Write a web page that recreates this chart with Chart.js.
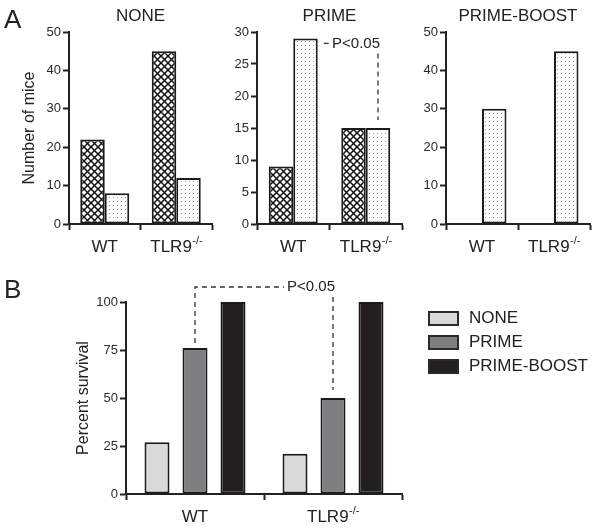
<!DOCTYPE html>
<html>
<head>
<meta charset="utf-8">
<script src="https://cdn.jsdelivr.net/npm/chart.js@4/dist/chart.umd.min.js"></script>
<style>
  body { margin: 0; background: #fff; font-family: "Liberation Sans", Arial, sans-serif; }
  #wrap { position: relative; width: 600px; height: 529px; overflow: hidden; }
  #wrap canvas { position: absolute; left: 0; top: 0; }
  .letter { position: absolute; font-size: 26px; color: #222; }
  #legend { position: absolute; left: 428px; top: 306px; }
  .item { display: flex; align-items: center; height: 24px; font-size: 17px; color: #222; }
  .box { width: 27px; height: 11px; border: 2px solid #2a2a2a; margin-right: 10px; }
</style>
</head>
<body>
<div id="wrap">
  <canvas id="a1" width="600" height="529"></canvas>
  <canvas id="a2" width="600" height="529"></canvas>
  <canvas id="a3" width="600" height="529"></canvas>
  <canvas id="b" width="600" height="529"></canvas>
  <div class="letter" style="left:4px; top:4px;">A</div>
  <div class="letter" style="left:4px; top:274px;">B</div>
  <div id="legend"></div>
</div>
<script>
// Categories shared by all panels
const genotypes = ['WT', 'TLR9-/-'];

// Panel A: number of mice, hatched and dotted series per treatment
const noneHatched = [22, 45];
const noneDotted = [8, 12];
const primeHatched = [9, 15];
const primeDotted = [29, 15];
const boostHatched = [0, 0];
const boostDotted = [30, 45];

// Panel B: percent survival
const survivalSeries = ['NONE', 'PRIME', 'PRIME-BOOST'];
const survivalNone = [27, 21];
const survivalPrime = [76, 50];
const survivalBoost = [100, 100];
const survivalColors = ['#d9d9d9', '#7f7f81', '#231f20'];

const FONT = '"Liberation Sans", Arial, sans-serif';
const INK = '#222';

// Fill patterns for the panel A bars
function makeHatch() {
    const p = 7;
    const c = document.createElement('canvas');
    c.width = p; c.height = p;
    const g = c.getContext('2d');
    g.fillStyle = '#fff';
    g.fillRect(0, 0, p, p);
    g.strokeStyle = '#111';
    g.lineWidth = 1.5;
    for (let k = -1; k <= 1; k++) {
        g.beginPath(); g.moveTo(k * p, 0); g.lineTo(k * p + p, p); g.stroke();
        g.beginPath(); g.moveTo(k * p + p, 0); g.lineTo(k * p, p); g.stroke();
    }
    return g.createPattern(c, 'repeat');
}

function makeDots() {
    const c = document.createElement('canvas');
    c.width = 4; c.height = 4;
    const g = c.getContext('2d');
    g.fillStyle = '#fff';
    g.fillRect(0, 0, 4, 4);
    g.fillStyle = '#999';
    g.fillRect(1, 1, 1, 1);
    return g.createPattern(c, 'repeat');
}

const hatch = makeHatch();
const dots = makeDots();

// Draws category labels under the x axis, with "-/-" as superscript
const xLabelPlugin = {
    id: 'xLabels',
    afterDraw(chart) {
        const ctx = chart.ctx;
        const xs = chart.scales.x;
        const y = chart.chartArea.bottom + 28;
        ctx.save();
        ctx.fillStyle = INK;
        ctx.textBaseline = 'alphabetic';
        chart.data.labels.forEach((label, i) => {
            const x = xs.getPixelForValue(i);
            const m = label.match(/^(.*?)(-\/-)$/);
            const base = m ? m[1] : label;
            const sup = m ? m[2] : '';
            ctx.font = '17px ' + FONT;
            const wb = ctx.measureText(base).width;
            ctx.font = '11px ' + FONT;
            const ws = ctx.measureText(sup).width;
            const left = x - (wb + ws) / 2;
            ctx.font = '17px ' + FONT;
            ctx.textAlign = 'left';
            ctx.fillText(base, left, y);
            if (sup) {
                ctx.font = '11px ' + FONT;
                ctx.fillText(sup, left + wb + 0.5, y - 8);
            }
        });
        ctx.restore();
    }
};

// Dashed significance bracket drawn from two bar elements
function bracketPlugin(cfg) {
    return {
        id: 'bracket',
        afterDatasetsDraw(chart) {
            const ctx = chart.ctx;
            const a = chart.getDatasetMeta(cfg.from[0]).data[cfg.from[1]];
            const b = chart.getDatasetMeta(cfg.to[0]).data[cfg.to[1]];
            const hy = cfg.hy(chart, a);
            ctx.save();
            ctx.font = cfg.size + 'px ' + FONT;
            ctx.fillStyle = INK;
            ctx.textBaseline = 'middle';
            ctx.textAlign = 'right';
            const textRight = b.x + 2;
            const tw = ctx.measureText('P<0.05').width;
            ctx.fillText('P<0.05', textRight, hy);
            ctx.strokeStyle = '#333';
            ctx.lineWidth = 1.3;
            ctx.setLineDash([5, 4]);
            ctx.beginPath();
            if (!cfg.startAtEdge) {
                ctx.moveTo(a.x, a.y - 5);
                ctx.lineTo(a.x, hy);
            } else {
                ctx.moveTo(a.x + a.width / 2 + 6, hy);
            }
            ctx.lineTo(textRight - tw - 3, hy);
            ctx.stroke();
            ctx.beginPath();
            ctx.moveTo(b.x, hy + 10);
            ctx.lineTo(b.x, b.y - 8);
            ctx.stroke();
            ctx.restore();
        }
    };
}

// One chart per panel, each on a full page canvas, placed by layout padding
function makePanel(id, area, opts) {
    const yWidth = opts.yWidth;
    const xHeight = 36;
    const titleFont = 17;
    const titleLine = titleFont * 1.2;
    return new Chart(document.getElementById(id), {
        type: 'bar',
        data: { labels: genotypes, datasets: opts.datasets },
        options: {
            responsive: false,
            animation: false,
            devicePixelRatio: 1,
            layout: {
                padding: {
                    left: area.left - yWidth,
                    right: 600 - area.right,
                    top: opts.title ? 0 : area.top,
                    bottom: 529 - area.bottom - xHeight
                }
            },
            datasets: {
                bar: {
                    categoryPercentage: opts.catPct,
                    barPercentage: opts.barPct,
                    borderWidth: (c) => (c.raw === 0 ? 0 : 2),
                    borderColor: '#1b1b1b',
                    borderSkipped: false
                }
            },
            plugins: {
                legend: { display: false },
                tooltip: { enabled: false },
                title: {
                    display: !!opts.title,
                    text: opts.title || '',
                    fullSize: false,
                    color: INK,
                    font: { family: FONT, size: titleFont, weight: 'normal' },
                    padding: { top: 6, bottom: area.top - 6 - titleLine }
                }
            },
            scales: {
                x: {
                    offset: true,
                    ticks: { display: false },
                    border: { display: true, color: INK, width: 2 },
                    grid: {
                        offset: true,
                        drawOnChartArea: false,
                        drawTicks: true,
                        tickLength: 6,
                        tickWidth: 2,
                        tickColor: INK
                    },
                    afterFit: (s) => { s.height = xHeight; }
                },
                y: {
                    min: 0,
                    max: opts.max,
                    ticks: {
                        stepSize: opts.step,
                        color: '#2a2a2a',
                        padding: 2,
                        font: { family: FONT, size: 13 }
                    },
                    border: { display: true, color: INK, width: 2 },
                    grid: {
                        drawOnChartArea: false,
                        drawTicks: true,
                        tickLength: 6,
                        tickWidth: 2,
                        tickColor: INK
                    },
                    title: {
                        display: !!opts.yTitle,
                        text: opts.yTitle || '',
                        color: INK,
                        padding: 0,
                        font: { family: FONT, size: 16 }
                    },
                    afterFit: (s) => { s.width = yWidth; }
                }
            }
        },
        plugins: [xLabelPlugin].concat(opts.extra || [])
    });
}

function patternSets(hatched, dotted) {
    return [
        { label: 'hatched', data: hatched, backgroundColor: hatch },
        { label: 'dotted', data: dotted, backgroundColor: dots }
    ];
}

makePanel('a1', { left: 69, right: 212, top: 32, bottom: 224 }, {
    title: 'NONE', yTitle: 'Number of mice', yWidth: 49,
    max: 50, step: 10, catPct: 0.685, barPct: 1,
    datasets: patternSets(noneHatched, noneDotted)
});

makePanel('a2', { left: 257, right: 402, top: 32, bottom: 224 }, {
    title: 'PRIME', yWidth: 30,
    max: 30, step: 5, catPct: 0.675, barPct: 1,
    datasets: patternSets(primeHatched, primeDotted),
    extra: [bracketPlugin({
        from: [1, 0], to: [1, 1], size: 15, startAtEdge: true,
        hy: (chart, a) => a.y + 5
    })]
});

makePanel('a3', { left: 446, right: 590, top: 32, bottom: 224 }, {
    title: 'PRIME-BOOST', yWidth: 30,
    max: 50, step: 10, catPct: 0.68, barPct: 1,
    datasets: patternSets(boostHatched, boostDotted)
});

const survivalData = [survivalNone, survivalPrime, survivalBoost];
makePanel('b', { left: 126, right: 402, top: 302, bottom: 494 }, {
    yTitle: 'Percent survival', yWidth: 52,
    max: 100, step: 25, catPct: 0.826, barPct: 0.658,
    datasets: survivalSeries.map((name, i) => ({
        label: name, data: survivalData[i], backgroundColor: survivalColors[i]
    })),
    extra: [bracketPlugin({
        from: [1, 0], to: [1, 1], size: 15, startAtEdge: false,
        hy: (chart) => chart.chartArea.top - 15
    })]
});

// Legend for panel B built from the series names and colours
const legend = document.getElementById('legend');
survivalSeries.forEach((name, i) => {
    const row = document.createElement('div');
    row.className = 'item';
    row.innerHTML = '<span class="box" style="background:' + survivalColors[i] + '"></span>' + name;
    legend.appendChild(row);
});
</script>
</body>
</html>
